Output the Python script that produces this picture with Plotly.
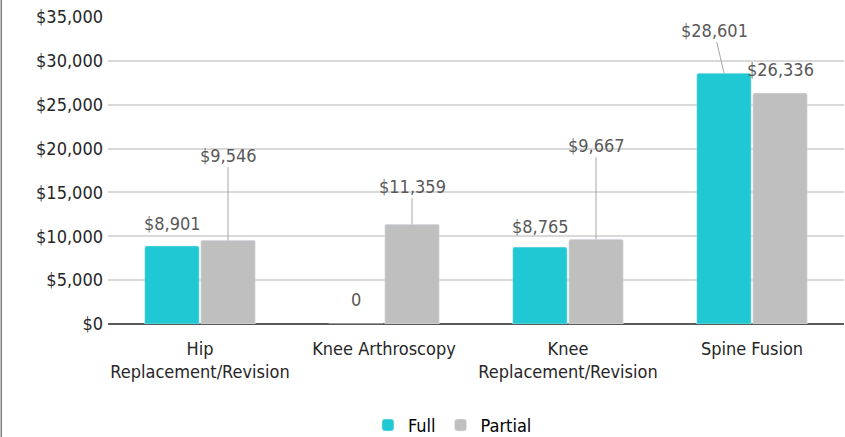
import plotly.graph_objects as go

categories = ["Hip<br>Replacement/Revision", "Knee Arthroscopy", "Knee<br>Replacement/Revision", "Spine Fusion"]
full_values = [8901, 0, 8765, 28601]
partial_values = [9546, 11359, 9667, 26336]
full_labels = ["$8,901", "0", "$8,765", "$28,601"]
partial_labels = ["$9,546", "$11,359", "$9,667", "$26,336"]
y_ticks = [0, 5000, 10000, 15000, 20000, 25000, 30000, 35000]
y_tick_labels = ["$0", "$5,000", "$10,000", "$15,000", "$20,000", "$25,000", "$30,000", "$35,000"]

FONT = "DejaVu Sans Condensed, Liberation Sans Narrow, Arial Narrow, sans-serif"
TEAL = "#1fc8d2"
GREY = "#bfbfbf"
LABEL = "#595959"

fig = go.Figure()
fig.add_trace(go.Bar(name="Full", x=categories, y=full_values, marker=dict(color=TEAL, cornerradius=2)))
fig.add_trace(go.Bar(name="Partial", x=categories, y=partial_values, marker=dict(color=GREY, cornerradius=2)))

# label offsets (pixels): (xshift of bar, ax, ay, leader line)
full_style = [(-28, 0, -22, False), (-28, 0, -25, False), (-28, 0, -21, False), (-28, -10, -43, True)]
partial_style = [(28, 0, -85, True), (28, 0, -38, True), (28, 0, -94, True), (28, 0, -24, False)]

def add_labels(values, labels, styles):
    for c, v, t, (xs, ax, ay, leader) in zip(categories, values, labels, styles):
        if leader:
            fig.add_annotation(x=c, y=v, xshift=xs, text=t, showarrow=True, arrowhead=0,
                               arrowwidth=1, arrowcolor="#a6a6a6", ax=ax, ay=ay, standoff=0,
                               font=dict(family=FONT, size=18, color=LABEL))
        else:
            fig.add_annotation(x=c, y=v, xshift=xs, text=t, showarrow=False,
                               yshift=-ay, font=dict(family=FONT, size=18, color=LABEL))

add_labels(full_values, full_labels, full_style)
add_labels(partial_values, partial_labels, partial_style)

fig.add_shape(type="line", xref="paper", yref="paper", x0=-0.145, x1=-0.145, y0=-0.4, y1=1.1,
              line=dict(color="#7f7f7f", width=1.5))

fig.update_layout(
    width=845, height=437,
    margin=dict(l=108, r=1, t=17, b=113, autoexpand=False),
    paper_bgcolor="white", plot_bgcolor="white",
    font=dict(family=FONT, size=18, color="#262626"),
    barmode="group", bargap=0.39, bargroupgap=0.03,
    showlegend=True,
    legend=dict(orientation="h", x=0.468, xanchor="center", y=-0.33, yanchor="middle",
                font=dict(family=FONT, size=18, color="#000000"), itemwidth=30,
                tracegroupgap=0, traceorder="normal"),
    xaxis=dict(showgrid=False, ticks="", showline=False, automargin=False,
               ticklabelstandoff=12, tickfont=dict(size=18, color="#262626")),
    yaxis=dict(range=[0, 35000], tickvals=y_ticks, ticktext=y_tick_labels, showgrid=True,
               gridcolor="#d9d9d9", gridwidth=1.5, zeroline=True, zerolinecolor="#595959",
               zerolinewidth=2, ticks="", ticklen=0, automargin=False,
               ticklabelstandoff=4, tickfont=dict(size=18, color="#262626")),
)

fig.write_html("out.html", config={"displayModeBar": False},
               post_script="document.body.style.margin='0';")
